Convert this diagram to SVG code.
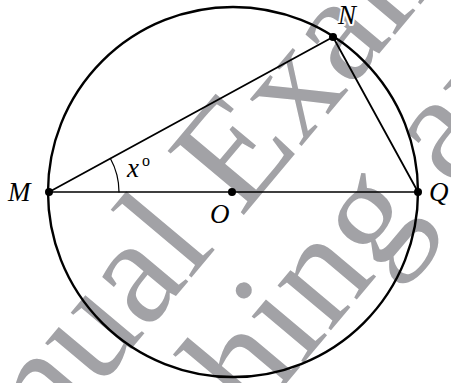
<svg xmlns="http://www.w3.org/2000/svg" width="451" height="383" viewBox="0 0 451 383">
<style>
.wm{font-family:"Liberation Serif","Times New Roman",serif;font-size:152px;fill:#a2a2a6}
.lbl{font-family:"Liberation Serif","Times New Roman",serif;font-style:italic;font-size:27px;fill:#000}
.halo{stroke:#fff;stroke-width:4;paint-order:stroke;stroke-linejoin:round}
.ln{stroke:#000;fill:none;stroke-linecap:round}
.dot{fill:#000}
</style>
<rect width="451" height="383" fill="#fff"/>
<g id="watermark" transform="translate(241,293) rotate(-50)">
<text class="wm" x="-445" y="-48">Manual Exam</text>
<text class="wm" x="-377" y="93">Teaching and</text>
</g>
<g id="connectors">
<circle class="ln" cx="233" cy="192" r="185" stroke-width="2.4"/>
<line class="ln" x1="49" y1="192" x2="418" y2="192" stroke-width="1.5"/>
<line class="ln" x1="49" y1="192" x2="333" y2="37" stroke-width="1.8"/>
<line class="ln" x1="333" y1="37" x2="418" y2="192" stroke-width="1.8"/>
<path class="ln" d="M119,192 A70,70 0 0 0 110.4,158.5" stroke-width="1.2"/>
</g>
<g id="M"><circle class="dot" cx="49" cy="192" r="4"/><text class="lbl halo" x="8" y="201">M</text></g>
<g id="N"><circle class="dot" cx="333" cy="37" r="4"/><text class="lbl halo" x="338" y="24">N</text></g>
<g id="Q"><circle class="dot" cx="418" cy="192" r="4"/><text class="lbl halo" x="429" y="201">Q</text></g>
<g id="O"><circle class="dot" cx="232" cy="192" r="4"/><text class="lbl halo" x="210" y="223">O</text></g>
<g id="angle"><text class="lbl halo" x="127" y="177" font-size="28">x<tspan font-style="normal" font-size="16" dx="3" dy="-11">o</tspan></text></g>
</svg>
